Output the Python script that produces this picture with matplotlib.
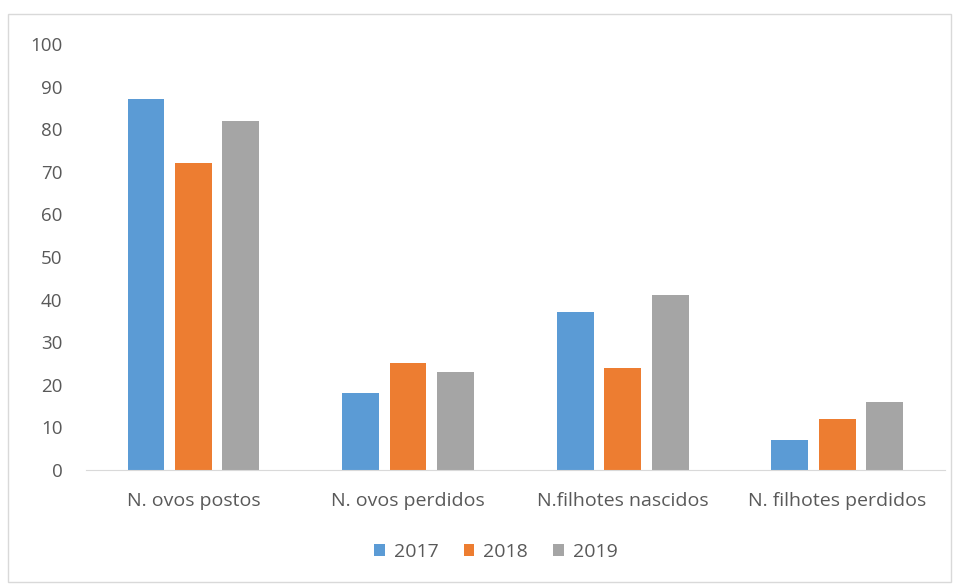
import matplotlib.pyplot as plt
import matplotlib.patches as mpatches
import numpy as np

# Dados
categorias = ["N. ovos postos", "N. ovos perdidos", "N.filhotes nascidos", "N. filhotes perdidos"]
anos = ["2017", "2018", "2019"]
v2017 = [87, 18, 37, 7]
v2018 = [72, 25, 24, 12]
v2019 = [82, 23, 41, 16]

cores = ['#5B9BD5', '#ED7D31', '#A5A5A5']
cinza_texto = '#595959'

plt.rcParams['font.family'] = ['Open Sans', 'DejaVu Sans']

fig = plt.figure(figsize=(9.57, 5.86), dpi=100)
ax = fig.add_axes([0.09, 0.198, 0.897, 0.727])

x = np.arange(len(categorias))
largura = 0.172
passo = 0.221
for i, (serie, ano) in enumerate(zip([v2017, v2018, v2019], anos)):
    ax.bar(x + (i - 1) * passo, serie, width=largura, color=cores[i], label=ano, zorder=2)

ax.set_xlim(-0.5, len(categorias) - 0.5)
ax.set_ylim(0, 100)
ax.set_yticks(range(0, 101, 10))
ax.set_xticks(x)
ax.set_xticklabels(categorias)
ax.tick_params(axis='both', length=0, colors=cinza_texto, labelsize=13.5)
ax.tick_params(axis='x', pad=16, labelsize=14)
ax.tick_params(axis='y', pad=17)

for lado in ['top', 'right', 'left']:
    ax.spines[lado].set_visible(False)
ax.spines['bottom'].set_color('#D9D9D9')

fig.legend(loc='center', bbox_to_anchor=(0.518, 0.058), ncol=3, frameon=False,
           handlelength=0.55, handleheight=0.55, handletextpad=0.45, columnspacing=1.3,
           labelcolor=cinza_texto, fontsize=14)

# moldura do gráfico
fig.patches.append(mpatches.Rectangle((0.008, 0.007), 0.986, 0.969, transform=fig.transFigure,
                                      fill=False, edgecolor='#D9D9D9', linewidth=1))

fig.savefig('out.png', dpi=100)
